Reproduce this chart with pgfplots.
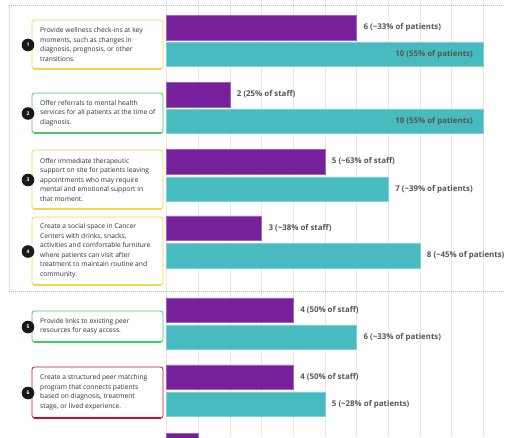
\documentclass[border=0pt]{standalone}
\usepackage{fontspec}
\setmainfont{Open Sans}
\usepackage{pgfplots}
\pgfplotsset{compat=1.18}
\definecolor{barpurple}{HTML}{76219A}
\definecolor{barteal}{HTML}{48BBC1}
\definecolor{gridgray}{HTML}{E8E8E8}
\definecolor{labgray}{HTML}{555555}
\definecolor{txtgray}{HTML}{333333}
\definecolor{dotgray}{HTML}{BBBBBB}
\definecolor{byellow}{HTML}{F6D44C}
\definecolor{bgreen}{HTML}{3DCB68}
\definecolor{bred}{HTML}{C8102E}
\newcommand{\itembox}[5]{%
  \draw[#3, line width=0.8pt, rounded corners=2.5pt, fill=white] (32,#1) rectangle (163,#2);
  \draw[#3, line width=1.6pt] (34,#2) -- (161,#2);
  \node[anchor=west, align=left, inner sep=0pt, text=txtgray,
        font=\fontsize{6.7}{9.5}\selectfont] at (40,{(#1+#2)/2}) {#5};
  \fill[black!90] (28,{(#1+#2)/2+0.5}) circle[radius=6.3pt];
  \node[white, inner sep=0pt, font=\bfseries\fontsize{5}{5}\selectfont] at (28,{(#1+#2)/2+0.5}) {#4};
}
\begin{document}
\begin{tikzpicture}
\begin{axis}[
  scale only axis, width=505pt, height=437pt,
  anchor=south west, at={(0,0)},
  xmin=-5.263, xmax=10.684,
  ymin=0, ymax=437, y dir=reverse,
  axis line style={draw=none},
  xtick={0,...,10}, xticklabels={}, ytick=\empty,
  major tick length=0pt,
  xmajorgrids, grid style={gridgray, line width=0.8pt},
  xbar, bar width=24.5, bar shift=0pt,
  point meta=explicit symbolic,
  nodes near coords style={font=\bfseries\fontsize{7.9}{9}\selectfont, text=labgray, anchor=west, inner sep=0pt, xshift=6.7pt},
]
% staff / first bar of each pair (purple)
\addplot[fill=barpurple, draw=barpurple!70!white, line width=0.5pt, nodes near coords] coordinates {
  (6,27.5) [6 (\textasciitilde33\% of patients)]
  (2,94.5) [2 (25\% of staff)]
  (5,161.5) [5 (\textasciitilde63\% of staff)]
  (3,228) [3 (\textasciitilde38\% of staff)]
  (4,310) [4 (50\% of staff)]
  (4,377) [4 (50\% of staff)]
};
\addplot[fill=barpurple, draw=barpurple!70!white, line width=0.5pt] coordinates {
  (1,445) []
};
% patients (teal), labels outside
\addplot[fill=barteal, draw=barteal!70!white, line width=0.5pt, nodes near coords] coordinates {
  (7,189) [7 (\textasciitilde39\% of patients)]
  (8,255.5) [8 (\textasciitilde45\% of patients)]
  (6,337) [6 (\textasciitilde33\% of patients)]
  (5,404) [5 (\textasciitilde28\% of patients)]
};
% patients (teal), labels inside
\addplot[fill=barteal, draw=barteal!70!white, line width=0.5pt, nodes near coords,
  nodes near coords style={anchor=east, xshift=-17pt}] coordinates {
  (10,54) [10 (55\% of patients)]
  (10,121) [10 (55\% of patients)]
};
\end{axis}
\begin{scope}[shift={(0,437pt)}, yscale=-1, x=1pt, y=1pt]
  \draw[dotgray, line width=0.6pt, dash pattern=on 0.8pt off 1.2pt] (9,5) -- (505,5);
  \draw[dotgray, line width=0.6pt, dash pattern=on 0.8pt off 1.2pt] (9,5) -- (9,291);
  \draw[dotgray, line width=0.6pt, dash pattern=on 0.8pt off 1.2pt] (9,291) -- (505,291);
  \itembox{20}{69}{byellow}{1}{Provide wellness check-ins at key\\moments, such as changes in\\diagnosis, prognosis, or other\\transitions.}
  \itembox{93}{133}{bgreen}{2}{Offer referrals to mental health\\services for all patients at the time of\\diagnosis.}
  \itembox{150}{209}{byellow}{3}{Offer immediate therapeutic\\support on site for patients leaving\\appointments who may require\\mental and emotional support in\\that moment.}
  \itembox{217}{285}{byellow}{4}{Create a social space in Cancer\\Centers with drinks, snacks,\\activities and comfortable furniture\\where patients can visit after\\treatment to maintain routine and\\community.}
  \itembox{311}{342}{bgreen}{5}{Provide links to existing peer\\resources for easy access.}
  \itembox{367}{418}{bred}{6}{Create a structured peer matching\\program that connects patients\\based on diagnosis, treatment\\stage, or lived experience.}
\end{scope}
\pgfresetboundingbox
\useasboundingbox (0,0) rectangle (505pt,437pt);
\end{tikzpicture}
\end{document}
